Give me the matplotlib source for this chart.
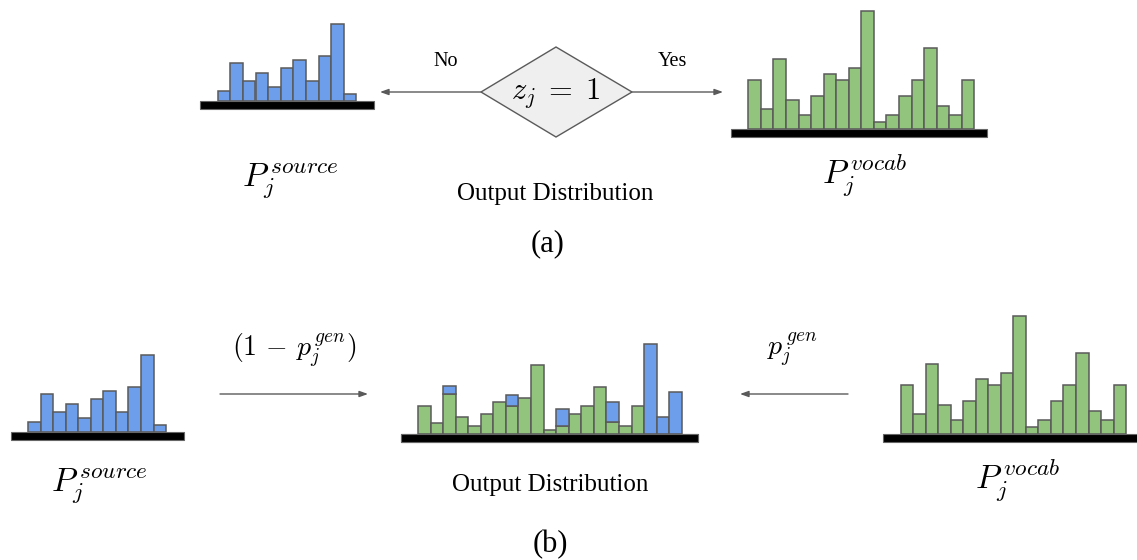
import matplotlib
matplotlib.use('Agg')
import matplotlib.pyplot as plt

plt.rcParams['mathtext.fontset'] = 'cm'
plt.rcParams['font.family'] = ['Liberation Serif', 'DejaVu Serif']

# bar heights of the sketched distributions (pixel units)
source_heights = [10, 38, 20, 28, 14, 33, 41, 20, 45, 77, 7]
vocab_heights = [49, 20, 70, 29, 14, 33, 55, 49, 61, 118, 7, 14, 33, 49, 81, 23, 14, 49]
# mixed output: green part (p_gen * vocab) and blue part ((1 - p_gen) * source)
mixed_green = [28, 11, 40, 17, 8, 20, 32, 28, 36, 69, 4, 8, 20, 28, 47, 12, 8, 28, 0, 0, 0]
mixed_blue = [0, 0, 8, 0, 0, 0, 0, 11, 0, 0, 0, 17, 0, 0, 0, 20, 0, 0, 90, 17, 42]

BLUE = '#6d9eeb'
GREEN = '#93c47d'
EDGE = '#5a5a5a'

fig = plt.figure(figsize=(11.37, 5.6), dpi=100)
ax = fig.add_axes([0, 0, 1, 1])
ax.set_xlim(0, 1137)
ax.set_ylim(560, 0)
ax.axis('off')


def histogram(x0, width, base_y, base_x0, base_x1, heights, color, bottoms=None):
    xs = [x0 + i * width for i in range(len(heights))]
    if bottoms is None:
        bottoms = [0] * len(heights)
    hs = [-h for h in heights]
    bs = [base_y - b for b in bottoms]
    keep = [i for i, h in enumerate(heights) if h > 0]
    ax.bar([xs[i] for i in keep], [hs[i] for i in keep], width=width,
           bottom=[bs[i] for i in keep], align='edge', color=color,
           edgecolor=EDGE, linewidth=1.1, zorder=2)
    ax.bar([base_x0], [8], width=base_x1 - base_x0, bottom=[base_y], align='edge',
           color='black', edgecolor='#666666', linewidth=0.8, zorder=3)


def arrow(x0, x1, y):
    ax.annotate('', xy=(x1, y), xytext=(x0, y),
                arrowprops=dict(arrowstyle='-|>,head_length=0.5,head_width=0.18',
                                color=EDGE, lw=1.0, shrinkA=0, shrinkB=0))


# ---- (a) ----
histogram(217.7, 12.6, 101, 200, 374, source_heights, BLUE)
histogram(748.3, 12.56, 129, 731, 987, vocab_heights, GREEN)

diamond = plt.Polygon([(481, 92), (556, 47), (632, 92), (556, 137)], closed=True,
                      facecolor='#efefef', edgecolor=EDGE, linewidth=1.0, zorder=2)
ax.add_patch(diamond)
ax.text(556, 93, r'$z_j\;=\;1$', fontsize=22, ha='center', va='center', zorder=4)
arrow(481, 380, 92)
arrow(632, 723, 92)
ax.text(446, 62, 'No', fontsize=14.5, ha='center', va='center')
ax.text(672, 62, 'Yes', fontsize=14.5, ha='center', va='center')

ax.text(290, 185, r'$P_j^{\,source}$', fontsize=24, ha='center', va='baseline')
ax.text(865, 183, r'$P_j^{\,vocab}$', fontsize=24, ha='center', va='baseline')
ax.text(555, 200, 'Output Distribution', fontsize=18, ha='center', va='baseline')
ax.text(548, 244, '(a)', fontsize=22, ha='center', va='center')

# ---- (b) ----
histogram(28, 12.55, 432, 11, 184, source_heights, BLUE)
histogram(418, 12.56, 434, 401, 698, mixed_green, GREEN)
histogram(418, 12.56, 434, 401, 698, mixed_blue, BLUE, bottoms=mixed_green)
histogram(900.7, 12.52, 434, 883, 1140, vocab_heights, GREEN)

arrow(220, 368, 394)
arrow(848, 740, 394)
ax.text(294, 350, r'$(1\,-\,p_j^{\,gen})$', fontsize=20, ha='center', va='center')
ax.text(792, 350, r'$p_j^{\,gen}$', fontsize=20, ha='center', va='center')

ax.text(99, 490, r'$P_j^{\,source}$', fontsize=24, ha='center', va='baseline')
ax.text(1018, 488, r'$P_j^{\,vocab}$', fontsize=24, ha='center', va='baseline')
ax.text(550, 491, 'Output Distribution', fontsize=18, ha='center', va='baseline')
ax.text(550, 545, '(b)', fontsize=22, ha='center', va='center')

fig.savefig('out.png', dpi=100)
